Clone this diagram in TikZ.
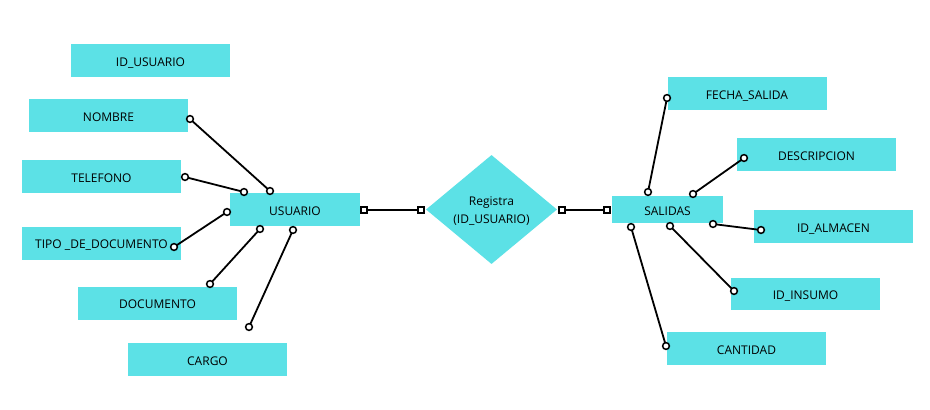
\documentclass[tikz,border=0pt]{standalone}
\usepackage{fontspec}
\setmainfont{Open Sans}
\usetikzlibrary{shapes.geometric}
\definecolor{boxc}{HTML}{5CE1E6}
\begin{document}
\begin{tikzpicture}[x=1pt,y=-1pt,
  ent/.style={fill=boxc, draw=none, minimum width=159pt, minimum height=33pt, inner sep=0pt,
              text height=11.2pt, text depth=0pt, font=\fontsize{12}{14}\selectfont},
  conn/.style={line width=1.8pt, draw=black},
  dotc/.style={line width=1.5pt, draw=black, fill=white},
  sqd/.style={line width=1.3pt, draw=black, fill=white}]
\useasboundingbox (0,0) rectangle (930,410);
\fill[white] (0,0) rectangle (930,410);

% entity boxes, left side
\node[ent] (idu) at (150.5,60.5) {ID\_USUARIO};
\node[ent] (nom) at (108.5,115.5) {NOMBRE};
\node[ent] (tel) at (101.5,176.5) {TELEFONO};
\node[ent] (tipo) at (101.5,243) {TIPO \_DE\_DOCUMENTO};
\node[ent] (doc) at (157.5,303) {DOCUMENTO};
\node[ent] (car) at (207.5,359.5) {CARGO};
\node[ent, minimum width=130pt] (usr) at (295,209.5) {USUARIO};

% relation
\node[diamond, fill=boxc, inner sep=0pt, aspect=1.2, minimum width=131pt, minimum height=109pt] (rel) at (491.5,209.5) {};
\node[align=center, inner sep=0pt, font=\fontsize{12}{18}\selectfont] (relt) at (491.5,211.5) {Registra\\(ID\_USUARIO)};

% entity boxes, right side
\node[ent, minimum width=111pt, minimum height=27pt] (sal) at (667.5,209.5) {SALIDAS};
\node[ent] (fec) at (747,93.5) {FECHA\_SALIDA};
\node[ent] (des) at (816.5,154.5) {DESCRIPCION};
\node[ent] (alm) at (833.5,226.5) {ID\_ALMACEN};
\node[ent, minimum width=149pt, minimum height=32pt] (ins) at (805.5,294) {ID\_INSUMO};
\node[ent] (can) at (746.5,348.5) {CANTIDAD};

% connector end points
\coordinate (nomA) at (190,119);  \coordinate (nomB) at (270,191);
\coordinate (telA) at (185,177);  \coordinate (telB) at (244,192);
\coordinate (tipA) at (174,247);  \coordinate (tipB) at (227,212);
\coordinate (docA) at (210,284);  \coordinate (docB) at (260,229);
\coordinate (carA) at (249,327);  \coordinate (carB) at (293,230);
\coordinate (fecA) at (667,98);   \coordinate (fecB) at (648,192);
\coordinate (desA) at (744,158);  \coordinate (desB) at (693,194);
\coordinate (almA) at (761,230);  \coordinate (almB) at (713,224);
\coordinate (insA) at (734,291);  \coordinate (insB) at (670,226);
\coordinate (canA) at (666,346);  \coordinate (canB) at (631,227);
\coordinate (r1A) at (364,210);   \coordinate (r1B) at (421,210);
\coordinate (r2A) at (562,210);   \coordinate (r2B) at (607,210);

\foreach \a/\b in {nomA/nomB, telA/telB, tipA/tipB, docA/docB, carA/carB,
                   fecA/fecB, desA/desB, almA/almB, insA/insB, canA/canB} {
  \draw[conn] (\a) -- (\b);
  \draw[dotc] (\a) circle[radius=3.4pt];
  \draw[dotc] (\b) circle[radius=3.4pt];
}
\foreach \a/\b in {r1A/r1B, r2A/r2B} {
  \draw[conn] (\a) -- (\b);
  \draw[sqd] (\a) ++(-3,-3) rectangle ++(6,6);
  \draw[sqd] (\b) ++(-3,-3) rectangle ++(6,6);
}
\end{tikzpicture}
\end{document}
